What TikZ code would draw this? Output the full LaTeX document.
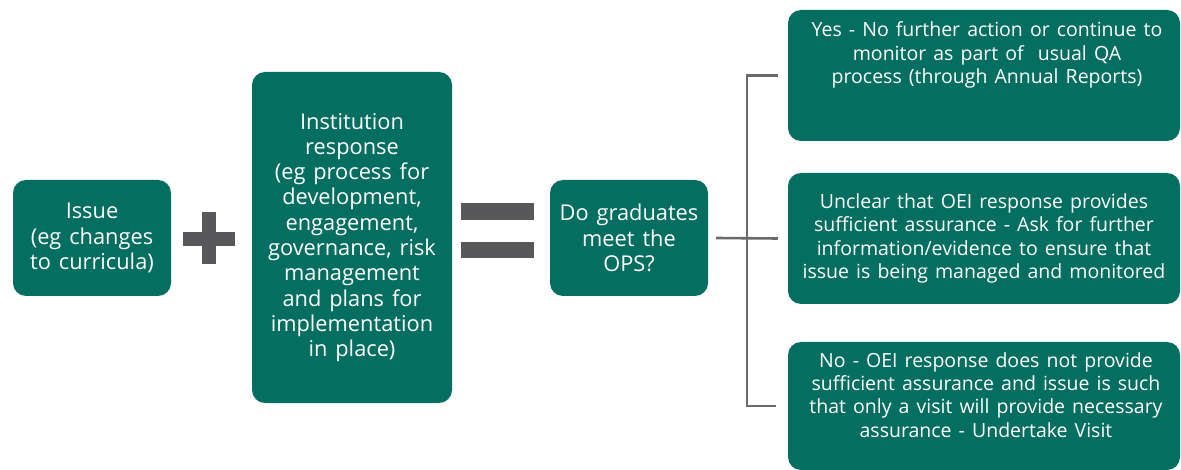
\documentclass[tikz,border=0pt]{standalone}
\usepackage{fontspec}
\setmainfont{Open Sans}[WordSpace={1.4,0.5,0.3}]
\definecolor{teal1}{HTML}{046E60}
\definecolor{opgray}{HTML}{58585A}
\definecolor{lngray}{HTML}{6A6A6A}
\tikzset{
  box/.style={fill=teal1, draw=none, rounded corners=13pt, inner sep=0pt},
  txtL/.style={text=white, align=center, font=\fontsize{21.8}{25.3}\selectfont, inner sep=0pt},
  txtR/.style={text=white, align=center, font=\fontsize{19.5}{23.2}\selectfont, inner sep=0pt},
  opbar/.style={fill=opgray, draw=none},
  conn/.style={draw=lngray, line width=2.6pt}
}
\begin{document}
\begin{tikzpicture}[x=1pt,y=-1pt]
\useasboundingbox (0,0) rectangle (1181,470);
\fill[white] (0,0) rectangle (1181,470);
% boxes
\node[box, minimum width=158pt, minimum height=116pt] (issue) at (92,238) {};
\node[box, minimum width=200pt, minimum height=331pt] (inst) at (352,237.5) {};
\node[box, minimum width=158pt, minimum height=116pt] (ops) at (629,238) {};
\node[box, minimum width=392pt, minimum height=131pt] (yes) at (984,75.5) {};
\node[box, minimum width=392pt, minimum height=131pt] (unclear) at (984,238.5) {};
\node[box, minimum width=392pt, minimum height=128pt] (no) at (984,406) {};
% texts
\node[txtL] (tissue) at (issue.center) {Issue\\(eg changes\\to curricula)};
\node[txtL] (tinst) at (inst.center) {Institution\\response\\(eg process for\\development,\\engagement,\\governance, risk\\management\\and plans for\\implementation\\in place)};
\node[txtL] (tops) at (ops.center) {Do graduates\\meet the\\OPS?};
\node[txtR] (tyes) at (987,55) {Yes - No further action or continue to\\monitor as part of \ usual QA\\process (through Annual Reports)};
\node[txtR] (tunclear) at (984,238.5) {Unclear that OEI response provides\\sufficient assurance - Ask for further\\information/evidence to ensure that\\issue is being managed and monitored};
\node[txtR] (tno) at (986,395) {No - OEI response does not provide\\sufficient assurance and issue is such\\that only a visit will provide necessary\\assurance - Undertake Visit};
% plus
\node[opbar, minimum width=52pt, minimum height=14pt, inner sep=0pt] (plush) at (209,239) {};
\node[opbar, minimum width=14pt, minimum height=52pt, inner sep=0pt] (plusv) at (209,238) {};
% equals
\node[opbar, minimum width=73pt, minimum height=17pt, inner sep=0pt] (eq1) at (497.5,211.5) {};
\node[opbar, minimum width=73pt, minimum height=16pt, inner sep=0pt] (eq2) at (497.5,250) {};
% connectors
\coordinate (j) at (747,238.5);
\draw[conn] ([xshift=8pt]ops.east) -- ([xshift=-10pt]unclear.west);
\draw[conn] ([xshift=-10pt]yes.west) -| (j) |- ([xshift=-12pt]no.west);
\end{tikzpicture}
\end{document}
